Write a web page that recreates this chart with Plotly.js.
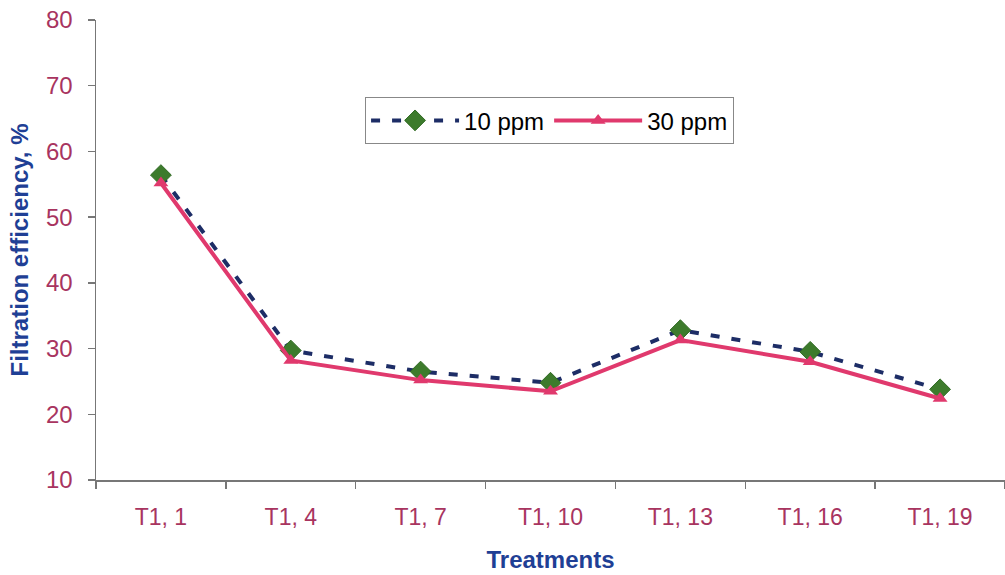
<!DOCTYPE html>
<html>
<head>
<meta charset="utf-8">
<script src="https://cdn.plot.ly/plotly-3.0.1.min.js"></script>
<style>html,body{margin:0;padding:0;background:#fff;}#chart{width:1005px;height:575px;}</style>
</head>
<body>
<div id="chart"></div>
<script>
var categories = ["T1, 1", "T1, 4", "T1, 7", "T1, 10", "T1, 13", "T1, 16", "T1, 19"];
var ppm10 = [56.4, 29.7, 26.5, 24.8, 32.8, 29.5, 23.8];
var ppm30 = [55.2, 28.2, 25.2, 23.5, 31.3, 28.0, 22.4];
var yTickVals = [10, 20, 30, 40, 50, 60, 70, 80];

var tickColor = '#a8345f';
var titleColor = '#1f3f95';

var traces = [
  {
    x: categories, y: ppm10, name: '10 ppm', type: 'scatter', mode: 'lines+markers',
    line: {color: '#1d2d66', width: 4, dash: '9px,12px'},
    marker: {symbol: 'diamond', size: 16, color: '#3d7b2c', line: {color: '#2f6a22', width: 1}}
  },
  {
    x: categories, y: ppm30, name: '30 ppm', type: 'scatter', mode: 'lines+markers',
    line: {color: '#e0396d', width: 4},
    marker: {symbol: 'triangle-up', size: 13, color: '#e0396d'}
  }
];

var layout = {
  width: 1005, height: 575,
  margin: {l: 96, r: 0, t: 20, b: 95},
  paper_bgcolor: '#ffffff', plot_bgcolor: '#ffffff',
  font: {family: 'Liberation Sans, Arial, sans-serif', size: 24, color: '#000'},
  showlegend: true,
  legend: {
    orientation: 'h', x: 0.296, y: 0.832, xanchor: 'left', yanchor: 'top',
    bgcolor: '#ffffff', bordercolor: '#888888', borderwidth: 1,
    font: {size: 24, color: '#000'}, traceorder: 'normal', itemwidth: 88
  },
  xaxis: {
    type: 'category', range: [-0.5, 6.5], tickson: 'boundaries',
    showline: true, linecolor: '#777', linewidth: 1.5, mirror: false,
    ticks: 'outside', ticklen: 7, tickcolor: '#777', tickwidth: 1.5,
    showgrid: false, zeroline: false,
    tickfont: {size: 23, color: tickColor}, ticklabelstandoff: 16,
    title: {text: '<b>Treatments</b>', font: {size: 24, color: titleColor}, standoff: 22}
  },
  yaxis: {
    range: [10, 80], tickvals: yTickVals, ticktext: yTickVals.map(String),
    showline: true, linecolor: '#777', linewidth: 1.5,
    ticks: 'outside', ticklen: 7, tickcolor: '#777', tickwidth: 1.5,
    showgrid: false, zeroline: false,
    tickfont: {size: 24, color: tickColor}, ticklabelstandoff: 10,
    title: {text: '<b>Filtration efficiency, %</b>', font: {size: 24, color: titleColor}, standoff: 10}
  }
};

Plotly.newPlot('chart', traces, layout, {displayModeBar: false, staticPlot: true});
</script>
</body>
</html>
